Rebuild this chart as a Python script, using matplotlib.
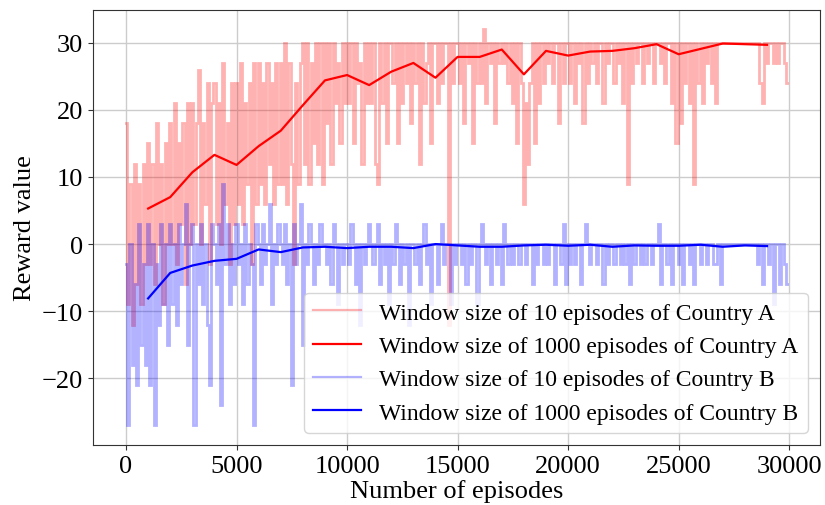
import numpy as np
import matplotlib
matplotlib.use("Agg")
import matplotlib.pyplot as plt

# ---- data ----
a_10 = [
    18, -9, 9, -12, 12, -6, 9, -9, 12, -3,
    15, -3, 12, -6, 18, 0, 12, -9, 15, 0,
    18, 0, 21, -3, 15, 3, 18, -6, 21, 0,
    21, 3, 18, 26, 0, 18, 6, 24, -3, 21,
    24, 3, 21, 0, 27, 6, 18, -3, 24, 3,
    24, 6, 27, 3, 21, 9, 24, -3, 27, 6,
    27, 9, 24, 6, 27, 12, 24, 6, 27, 9,
    27, 9, 30, 6, 27, 12, -3, 24, 9, 27,
    30, 12, 30, 9, 27, 15, 30, 12, 30, 9,
    30, 18, 30, 12, 30, 21, 27, 15, 30, 21,
    30, 21, 30, 15, 30, 24, 27, 12, 30, 21,
    30, 21, 30, 12, 9, 30, 21, 30, 15, 30,
    30, 24, 30, 15, 30, 21, 30, 24, 30, 18,
    30, 24, 30, 12, 30, 21, 27, 30, 15, 30,
    30, 21, 30, 24, 30, 30, -12, 30, 24, 30,
    30, 24, 30, 18, 30, 27, 30, 15, 30, 24,
    30, 24, 32, 21, 30, 27, 30, 18, 30, 27,
    30, 27, 30, 24, 30, 21, 30, 15, 30, 24,
    6, 21, 12, 24, 30, 15, 30, 21, 30, 24,
    30, 27, 30, 24, 30, 30, 18, 30, 24, 30,
    30, 24, 30, 21, 30, 27, 30, 18, 30, 24,
    30, 27, 30, 24, 30, 30, 21, 30, 27, 30,
    30, 24, 30, 27, 30, 21, 30, 9, 30, 24,
    30, 27, 30, 30, 24, 30, 27, 30, 30, 24,
    30, 30, 27, 30, 24, 30, 30, 21, 30, 15,
    30, 18, 30, 24, 30, 21, 30, 9, 30, 24,
    30, 21, 30, 27, 30, 24, 30, 21, 30, 30,
    30, 30, 30, 30, 30, 30, 30, 30, 30, 30,
    30, 30, 30, 30, 30, 30, 30, 24, 21, 30,
    27, 30, 30, 27, 30, 27, 30, 30, 27, 24,
]
b_10 = [
    -3, -27, 0, -18, -6, -21, 3, -15, -3, -18,
    3, -21, 0, -27, -3, -12, 3, -9, 0, -15,
    3, -9, 0, -12, 3, -6, 0, 6, -15, 0,
    3, -27, 0, -6, 3, -9, 0, -12, -21, 3,
    0, -6, 3, -24, 9, -3, 3, -9, 0, -6,
    3, -3, 0, -9, 3, -6, 0, -3, -27, 3,
    0, -6, 3, -3, 0, 6, -9, 0, -3, 3,
    0, -3, 3, -6, 0, -21, 3, -3, 0, 6,
    -15, 0, -3, 3, 0, -6, 0, -3, 3, 0,
    0, -3, 0, -6, 3, 0, -9, 0, -3, 0,
    0, -3, 3, 0, -6, 0, -12, 0, -3, 0,
    3, 0, -3, 0, 3, -6, 0, -3, 0, -9,
    0, -3, 3, 0, -6, 0, -3, 0, -12, 0,
    0, -3, 0, -6, 0, 3, -3, 0, -9, 0,
    0, -6, 0, 3, -3, 0, 0, -9, 0, -3,
    0, 0, -3, 0, -6, 0, -3, 0, 0, -9,
    0, 3, 0, -3, 0, -6, 0, 0, -3, 0,
    -6, 3, 0, -3, 0, -3, 0, 0, -3, 0,
    0, -3, 0, 0, -6, 0, -3, 0, 0, -3,
    0, -3, 0, 0, -6, 0, 0, -3, 3, -6,
    0, -3, 0, -3, 0, 0, -6, 0, 3, 0,
    -3, 0, 0, -3, 0, 0, -6, 0, -3, 0,
    0, -3, 0, 0, -3, 0, -3, 0, -6, 0,
    -3, 0, 0, -3, 0, -3, 0, 0, -3, 0,
    0, 3, -6, 0, 0, -3, 0, -6, 0, 0,
    -3, 0, -6, 0, 0, -3, 0, -6, 0, 0,
    -3, 0, 0, -3, 0, 0, -3, -3, 0, -6,
    0, 0, 0, 0, 0, 0, 0, 0, 0, 0,
    0, 0, 0, 0, 0, 0, -3, 0, -6, 0,
    0, -3, 0, -9, 0, 0, -6, 0, -3, -6,
]
x_10 = np.arange(len(a_10)) * 100

# Window of 1000 episodes
x_1000 = [1000, 2000, 3000, 4000, 5000, 6000, 7000, 8000, 9000, 10000,
          11000, 12000, 13000, 14000, 15000, 16000, 17000, 18000, 19000, 20000,
          21000, 22000, 23000, 24000, 25000, 26000, 27000, 28000, 29000]
a_1000 = [5.3, 7.0, 10.7, 13.3, 11.8, 14.6, 16.9, 20.7, 24.4, 25.2,
          23.7, 25.7, 27.0, 24.8, 27.9, 27.9, 29.0, 25.3, 28.8, 28.1,
          28.7, 28.8, 29.2, 29.8, 28.3, 29.1, 29.9, 29.8, 29.7]
b_1000 = [-8.1, -4.3, -3.2, -2.5, -2.2, -0.8, -1.2, -0.5, -0.4, -0.6,
          -0.4, -0.4, -0.6, 0.0, -0.2, -0.4, -0.4, -0.2, -0.1, -0.25,
          -0.1, -0.4, -0.2, -0.25, -0.25, -0.1, -0.4, -0.2, -0.3]

labels = ["Window size of 10 episodes of Country A",
          "Window size of 1000 episodes of Country A",
          "Window size of 10 episodes of Country B",
          "Window size of 1000 episodes of Country B"]

# ---- plot ----
plt.rcParams['font.family'] = ['Liberation Serif', 'DejaVu Serif']
plt.rcParams['mathtext.fontset'] = 'stix'

fig = plt.figure(figsize=(8.25, 5.06), dpi=100)
ax = fig.add_axes([0.1127, 0.1186, 0.8812, 0.8604])

ax.plot(x_10, a_10, color='red', alpha=0.3, lw=2.0, drawstyle='steps-mid',
        solid_joinstyle='miter', label=labels[0])
ax.plot(x_1000, a_1000, color='red', lw=1.6, label=labels[1])
ax.plot(x_10, b_10, color='blue', alpha=0.3, lw=2.0, drawstyle='steps-mid',
        solid_joinstyle='miter', label=labels[2])
ax.plot(x_1000, b_1000, color='blue', lw=1.6, label=labels[3])

ax.grid(True, color='#cccccc', lw=1)
ax.set_axisbelow(True)
for s in ax.spines.values():
    s.set_color('#333333')
ax.tick_params(labelsize=19, colors='#333333', labelcolor='black')
ax.set_xticks([0, 5000, 10000, 15000, 20000, 25000, 30000])
ax.set_yticks([-20, -10, 0, 10, 20, 30])
ax.set_xlabel("Number of episodes", fontsize=19, labelpad=2)
ax.set_ylabel("Reward value", fontsize=19, labelpad=4)

leg = ax.legend(loc='lower right', fontsize=17, framealpha=0.8, handlelength=2.0,
                borderpad=0.4, labelspacing=0.5)
for h in leg.get_lines():
    h.set_linewidth(1.6)

fig.savefig("out.png", dpi=100)
